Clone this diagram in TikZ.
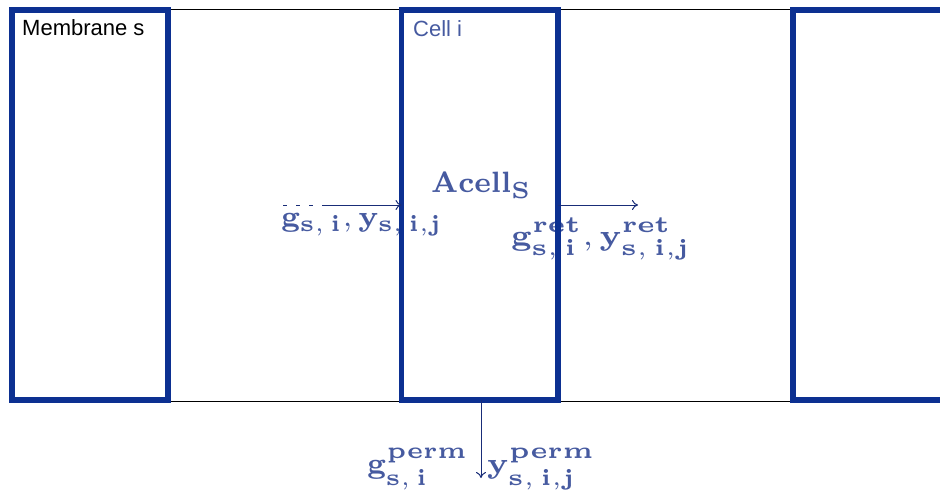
\documentclass[tikz,border=0pt]{standalone}
\usepackage{fix-cm}
\usepackage[no-math]{fontspec}
\setmainfont{Latin Modern Roman}
\newfontfamily\lsans{Liberation Sans}
\usetikzlibrary{arrows.meta}
\DeclareMathSizes{7}{7}{5.5}{5}
\definecolor{boxblue}{RGB}{12,48,145}
\definecolor{txtblue}{RGB}{70,90,160}
\definecolor{arrblue}{RGB}{25,45,120}
\newcommand{\biglab}[2][4.2]{\scalebox{#1}[4.2]{\fontsize{7}{8}\selectfont$#2$}}
\begin{document}
\begin{tikzpicture}[x=1pt,y=-1pt,
  cellbox/.style={draw=boxblue,line width=5.5pt,inner sep=0pt,outer sep=0pt,anchor=north west},
  thinline/.style={draw=black,line width=0.9pt},
  flow/.style={draw=arrblue,line width=1pt,-{To[length=6pt,width=10pt]}},
  mlabel/.style={text=txtblue,inner sep=0pt,anchor=base west},
  slabel/.style={font=\lsans\fontsize{22}{26}\selectfont,inner sep=0pt,anchor=base west}]
\useasboundingbox (0,0) rectangle (940,500);
% thin outer lines
\draw[thinline] (12,9) -- (945,9);
\draw[thinline] (12,401) -- (945,401);
% texts
\node[slabel] (mem) at (22,36) {Membrane s};
\node[slabel,text=txtblue] (celltxt) at (413,37) {Cell i};
\node[mlabel] (acell) at (431,193) {\biglab[4.0]{\mathbf{Acell}_{\mathbf{S}}}};
\node[mlabel] (inlab) at (281,226) {\biglab{\mathbf{g}_{\mathbf{s},\,\mathbf{i}}, \mathbf{y}_{\mathbf{s},\,\mathbf{i},\mathbf{j}}}};
\node[mlabel] (retlab) at (511,245) {\biglab[4.55]{\mathbf{g}^{\mathbf{ret}}_{\mathbf{s},\,\mathbf{i}}, \mathbf{y}^{\mathbf{ret}}_{\mathbf{s},\,\mathbf{i},\mathbf{j}}}};
\node[mlabel] (permg) at (367,473) {\biglab{\mathbf{g}^{\mathbf{perm}}_{\mathbf{s},\,\mathbf{i}}}};
\node[mlabel] (permy) at (487,473) {\biglab[4.45]{\mathbf{y}^{\mathbf{perm}}_{\mathbf{s},\,\mathbf{i},\mathbf{j}}}};
% boxes
\node[cellbox,minimum width=156pt,minimum height=390pt] (memb) at (12,10) {};
\node[cellbox,minimum width=156.5pt,minimum height=390pt] (cell) at (401.5,10) {};
\draw[draw=boxblue,line width=5.5pt] (950,10) -- (793,10) -- (793,400) -- (950,400);
% arrows
\coordinate (instart) at (283,205);
\coordinate (inmid) at (322,205);
\coordinate (rettip) at (638,205);
\coordinate (permtip) at (481,478);
\draw[arrblue,line width=1pt,dash pattern=on 4pt off 9pt] (instart) -- (inmid);
\draw[flow] (inmid) -- (cell.west |- inmid);
\draw[flow] (cell.east |- rettip) -- (rettip);
\draw[flow] (cell.south -| permtip) -- (permtip);
\end{tikzpicture}
\end{document}
